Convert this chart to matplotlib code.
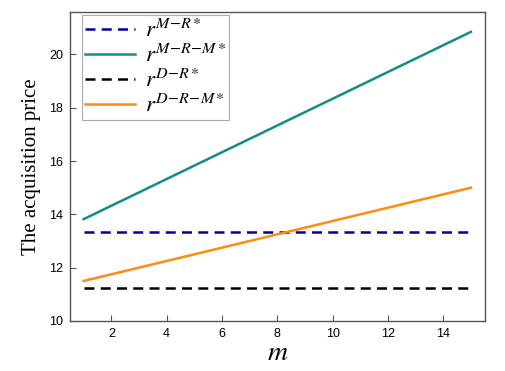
import numpy as np
import matplotlib
matplotlib.use("Agg")
import matplotlib.pyplot as plt

plt.rcParams['mathtext.fontset'] = 'stix'

m = [1, 15]
r_mr = [13.33, 13.33]
r_mrm = [13.82, 20.85]
r_dr = [11.25, 11.25]
r_drm = [11.5, 15.0]

labels = [r'$r^{M\!-\!R*}$', r'$r^{M\!-\!R\!-\!M*}$',
          r'$r^{D\!-\!R*}$', r'$r^{D\!-\!R\!-\!M*}$']

fig = plt.figure(figsize=(5.06, 3.71), dpi=100)
ax = fig.add_axes([0.138, 0.135, 0.82, 0.833])

ax.plot(m, r_mr, color='#0000a8', ls=(0, (4, 2.5)), lw=1.8, label=labels[0])
ax.plot(m, r_mrm, color='#0f8f88', lw=1.8, label=labels[1])
ax.plot(m, r_dr, color='black', ls=(0, (4, 2.5)), lw=1.8, label=labels[2])
ax.plot(m, r_drm, color='#ff8c10', lw=1.8, label=labels[3])

ax.set_xlim(0.5, 15.5)
ax.set_ylim(10, 21.6)
ax.set_xticks([2, 4, 6, 8, 10, 12, 14])
ax.set_yticks([10, 12, 14, 16, 18, 20])
ax.tick_params(direction='in', length=4, width=0.8, color='#555555',
               labelsize=9, pad=5, top=False, right=False)
for lab in ax.get_xticklabels() + ax.get_yticklabels():
    lab.set_family('Liberation Sans')
for s in ax.spines.values():
    s.set_color('#555555')
    s.set_linewidth(1.0)

ax.set_xlabel(r'$m$', fontsize=20, labelpad=-1)
ax.set_ylabel('The acquisition price', family='Liberation Serif',
              fontsize=15, labelpad=6)

# legend placed a little in from the corner, rows spread out like the original
leg = ax.legend(loc='upper left', bbox_to_anchor=(0.02, 1.0), fontsize=16.5,
                frameon=True, fancybox=False, edgecolor='#999999',
                handlelength=2.2, labelspacing=0.08, borderpad=0.15,
                handletextpad=0.4, borderaxespad=0.15)
leg.get_frame().set_linewidth(0.8)

fig.savefig('out.png', dpi=100)
